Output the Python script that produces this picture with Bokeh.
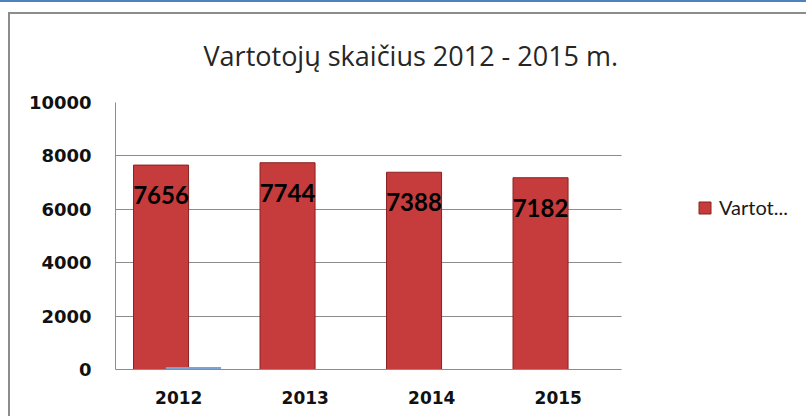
from bokeh.plotting import figure
from bokeh.models import (Range1d, FixedTicker, Legend, LegendItem, ColumnDataSource)
from bokeh.transform import dodge
from bokeh.core.properties import value
from bokeh.embed import file_html
from bokeh.resources import INLINE

years = ["2012", "2013", "2014", "2015"]
users = [7656, 7744, 7388, 7182]
second_series = [90, 0, 0, 0]
y_ticks = [0, 2000, 4000, 6000, 8000, 10000]
title_text = "Vartotojų skaičius 2012 - 2015 m."
legend_label = "Vartot..."

# layout (pixels)
W, H = 806, 416
LEFT, TOP, BOTTOM = 115, 102, 47
AREA_RIGHT = 621          # right edge of the plot area (grid end)
FRAME_RIGHT = 800         # drawing frame extends to hold the legend

n = len(years)
centers = [i + 0.5 for i in range(n)]
x_end = n * (FRAME_RIGHT - LEFT) / (AREA_RIGHT - LEFT)

src = ColumnDataSource(dict(x=centers, users=users, second=second_series,
                            labels=[str(v) for v in users]))

p = figure(width=W, height=H, x_range=Range1d(0, x_end),
           y_range=Range1d(0, 10000), output_backend="svg",
           toolbar_location=None, min_border_left=LEFT,
           min_border_right=W - FRAME_RIGHT, min_border_top=TOP,
           min_border_bottom=BOTTOM)
p.outline_line_color = None
p.background_fill_color = "white"
p.border_fill_color = None
p.styles = {"box-shadow": "inset 0 2px 0 0 #4f81bd, inset 8px 12px 0 0 #ffffff, "
                          "inset 10px 14px 0 0 #8c8c8c"}

p.title.text = title_text
p.title.align = "left"
p.title.offset = 88
p.title.standoff = 57
p.title.text_font = "Open Sans"
p.title.text_font_style = "normal"
p.title.text_font_size = "27px"
p.title.text_color = "#262626"

p.xgrid.grid_line_color = None
p.ygrid.grid_line_color = "#8c8c8c"
p.ygrid.grid_line_width = 1
p.ygrid.cross_bounds = (0, n)

p.yaxis.ticker = FixedTicker(ticks=y_ticks)
p.xaxis.ticker = FixedTicker(ticks=centers)
p.xaxis.major_label_overrides = {c: y for c, y in zip(centers, years)}
p.xaxis.bounds = (0, n)
for ax in (p.xaxis[0], p.yaxis[0]):
    ax.axis_line_color = "#8c8c8c"
    ax.axis_line_width = 1
    ax.major_tick_line_color = None
    ax.minor_tick_line_color = None
    ax.major_tick_out = 0
    ax.major_label_text_font = "DejaVu Sans"
    ax.major_label_text_font_style = "bold"
    ax.major_label_text_color = "#111111"
p.yaxis.major_label_text_font_size = "18px"
p.xaxis.major_label_text_font_size = "17px"
p.yaxis.major_label_standoff = 24
p.xaxis.major_label_standoff = 21

red = p.vbar(x=dodge("x", -0.14), top="users", width=0.435,
             source=src, fill_color="#c63b3b", line_color="#8a2222", line_width=1)
blue = p.vbar(x=dodge("x", 0.117), top="second", width=0.435,
              source=src, fill_color="#7da3d6", line_color=None)

p.text(x=dodge("x", -0.14), y="users", text="labels", source=src,
       y_offset=30, text_align="center", text_baseline="middle",
       text_font=value("Lato"), text_font_style="bold", text_font_size="24px",
       text_color="black")

legend = Legend(items=[LegendItem(label=legend_label, renderers=[red])],
                location=(582, 150), background_fill_alpha=0, border_line_color=None,
                padding=0, margin=0, glyph_width=15, glyph_height=15, label_height=15,
                label_text_font="Lato", label_text_font_size="20px",
                label_standoff=7, spacing=0, label_text_color="#1a1a1a")
p.add_layout(legend)

open("out.html", "w").write(file_html(p, INLINE))
